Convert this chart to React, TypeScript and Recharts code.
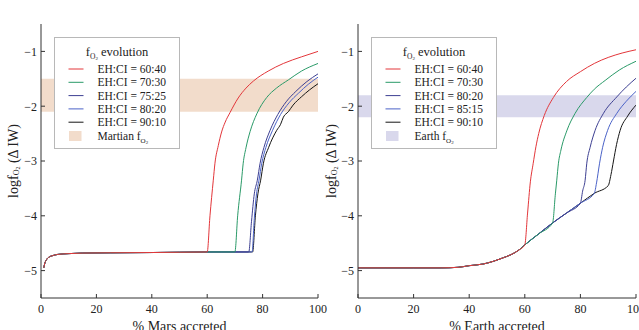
import React from 'react';
import { LineChart, Line, XAxis, YAxis, ReferenceArea, Legend, Label } from 'recharts';

const FONT = '"Liberation Serif", "Times New Roman", serif';

const xTicks = [0, 20, 40, 60, 80, 100];
const yTicks = [-5, -4, -3, -2, -1];

const colRed = '#e3363a';
const colGreen = '#2a9a68';
const colNavy = '#3d3f92';
const colBlue = '#4a62c8';
const colBlack = '#151515';

// ---------- Mars (left) ----------
const marsBaseX = [1, 1.3, 2, 3, 4, 6, 10, 15, 25, 40, 50, 60, 65, 70, 75, 76, 77];
const marsBaseY = [-4.95, -4.88, -4.8, -4.75, -4.73, -4.705, -4.69, -4.68, -4.675, -4.67, -4.665, -4.66, -4.66, -4.66, -4.66, -4.66, -4.66];

const marsLabels = ['EH:CI = 60:40', 'EH:CI = 70:30', 'EH:CI = 75:25', 'EH:CI = 80:20', 'EH:CI = 90:10'];

const mars6040X = [60, 61, 62.2, 62.8, 64, 65.2, 66.5, 68.2, 71.2, 74, 76.7, 82, 87.5, 94, 100];
const mars6040Y = [-4.66, -4.0, -3.35, -3.04, -2.72, -2.47, -2.29, -2.12, -1.85, -1.67, -1.54, -1.36, -1.22, -1.1, -1.0];
const mars7030X = [70, 71, 72.4, 73, 74, 75.5, 77.9, 81.5, 85, 89.3, 94, 100];
const mars7030Y = [-4.66, -4.0, -3.35, -3.04, -2.76, -2.46, -2.14, -1.84, -1.67, -1.52, -1.36, -1.22];
const mars7525X = [75, 76, 77, 78.1, 79.1, 80.5, 82.7, 85.5, 88.5, 92, 96, 100];
const mars7525Y = [-4.66, -4.1, -3.6, -3.35, -3.04, -2.75, -2.44, -2.15, -1.92, -1.73, -1.55, -1.41];
const mars8020X = [76.2, 77, 77.8, 78.7, 79.7, 81.2, 83.6, 86.5, 89.5, 93, 96.5, 100];
const mars8020Y = [-4.66, -4.05, -3.6, -3.35, -3.04, -2.75, -2.44, -2.15, -1.94, -1.76, -1.6, -1.47];
const mars9010X = [76.4, 77.4, 78.3, 79.3, 80.3, 82.2, 85.1, 86.5, 87.5, 89.3, 91, 94, 97, 100];
const mars9010Y = [-4.66, -4.0, -3.6, -3.35, -3.04, -2.75, -2.44, -2.33, -2.2, -2.1, -1.98, -1.83, -1.7, -1.59];

const marsBand = [-2.1, -1.5];

// ---------- Earth (right) ----------
const earthBaseX = [0, 10, 20, 30, 36, 40, 45, 48.7, 52, 55, 58, 60, 65, 70, 75, 80, 85, 90];
const earthBaseY = [-4.95, -4.95, -4.95, -4.95, -4.94, -4.91, -4.88, -4.83, -4.77, -4.71, -4.62, -4.53, -4.33, -4.13, -3.95, -3.77, -3.59, -3.45];

const earthLabels = ['EH:CI = 60:40', 'EH:CI = 70:30', 'EH:CI = 80:20', 'EH:CI = 85:15', 'EH:CI = 90:10'];

const earth6040X = [60, 61, 62, 63, 64, 65, 67, 70.3, 75, 80, 85, 90, 95, 100];
const earth6040Y = [-4.53, -3.95, -3.38, -3.05, -2.74, -2.5, -2.17, -1.84, -1.55, -1.37, -1.22, -1.11, -1.03, -0.97];
const earth7030X = [70, 71, 71.5, 72.1, 73, 75.1, 78.1, 82.3, 85, 88.9, 94, 100];
const earth7030Y = [-4.13, -3.6, -3.35, -3.04, -2.8, -2.45, -2.13, -1.84, -1.69, -1.53, -1.34, -1.18];
const earth8020X = [80, 80.8, 81.7, 82.3, 83.5, 85.3, 88.3, 93.1, 96.5, 100];
const earth8020Y = [-3.77, -3.55, -3.35, -3.04, -2.75, -2.44, -2.13, -1.83, -1.65, -1.49];
const earth8515X = [85, 85.8, 86.9, 88, 89.8, 93.1, 96.5, 100];
const earth8515Y = [-3.59, -3.4, -3.04, -2.75, -2.44, -2.13, -1.91, -1.73];
const earth9010X = [90, 91, 91.9, 93, 94.3, 97, 100];
const earth9010Y = [-3.45, -3.25, -3.0, -2.7, -2.44, -2.18, -1.98];

const earthBand = [-2.2, -1.8];

function build(baseX: number[], baseY: number[], riseX: number[], riseY: number[]) {
  const pts: { x: number; y: number }[] = [];
  baseX.forEach((x, i) => {
    if (x < riseX[0]) pts.push({ x, y: baseY[i] });
  });
  riseX.forEach((x, i) => pts.push({ x, y: riseY[i] }));
  return pts;
}

const colors = [colRed, colGreen, colNavy, colBlue, colBlack];

const marsSeries = [
  [mars6040X, mars6040Y],
  [mars7030X, mars7030Y],
  [mars7525X, mars7525Y],
  [mars8020X, mars8020Y],
  [mars9010X, mars9010Y],
].map(([rx, ry], i) => ({
  name: marsLabels[i],
  color: colors[i],
  data: build(marsBaseX, marsBaseY, rx, ry),
}));

const earthSeries = [
  [earth6040X, earth6040Y],
  [earth7030X, earth7030Y],
  [earth8020X, earth8020Y],
  [earth8515X, earth8515Y],
  [earth9010X, earth9010Y],
].map(([rx, ry], i) => ({
  name: earthLabels[i],
  color: colors[i],
  data: build(earthBaseX, earthBaseY, rx, ry),
}));

const fmtY = (v: number) => (v < 0 ? '\u2212' + Math.abs(v) : String(v));

const XTick = (p: any) => (
  <text x={p.x} y={p.y} dy="0.75em" textAnchor="middle" fontFamily={FONT} fontSize={12} fill="#222">
    {String(p.payload.value)}
  </text>
);

const YTick = (p: any) => (
  <text x={p.x} y={p.y} dy="0.36em" textAnchor="end" fontFamily={FONT} fontSize={12} fill="#222">
    {fmtY(p.payload.value)}
  </text>
);

function LegendBox({ series, bandColor, bandName }: any) {
  const rows = [31, 44.3, 57.6, 70.9, 84.2];
  return (
    <div
      style={{
        width: 126,
        height: 112,
        boxSizing: 'border-box',
        border: '1px solid #b8b8b8',
        background: '#fff',
      }}
    >
      <svg width={124} height={110} style={{ display: 'block', fontFamily: FONT }}>
        <text x={62} y={17.5} textAnchor="middle" fontFamily={FONT} fontSize={12.5} fill="#222">
          f
          <tspan fontSize={7.5} dy={3}>O</tspan>
          <tspan fontSize={5} dy={1.5}>2</tspan>
          <tspan dy={-4.5}> evolution</tspan>
        </text>
        {series.map((s: any, i: number) => (
          <g key={s.name}>
            <line x1={13.5} x2={28.5} y1={rows[i]} y2={rows[i]} stroke={s.color} strokeWidth={1} />
            <text x={42.5} y={rows[i] + 4} fontFamily={FONT} fontSize={11.5} fill="#222">
              {s.name}
            </text>
          </g>
        ))}
        <rect x={14} y={93} width={12.5} height={10} fill={bandColor} />
        <text x={42.5} y={101.5} fontFamily={FONT} fontSize={11.5} fill="#222">
          {bandName}
          <tspan fontSize={7} dy={3}>O</tspan>
          <tspan fontSize={5} dy={1.5}>2</tspan>
        </text>
      </svg>
    </div>
  );
}

function Panel({ width, axisW, rightM, xLabel, series, band, bandColor, bandName, ylabelX }: any) {
  const drawOrder = [...series].reverse();
  return (
    <LineChart
      width={width}
      height={330}
      margin={{ top: 24, right: rightM, bottom: 0, left: 0 }}
      style={{ fontFamily: FONT }}
    >
      <ReferenceArea
        y1={band[0]}
        y2={band[1]}
        fill={bandColor}
        fillOpacity={1}
        stroke="none"
        ifOverflow="visible"
      />
      <XAxis
        dataKey="x"
        type="number"
        domain={[0, 100]}
        ticks={xTicks}
        interval={0}
        height={32}
        tickSize={-4}
        tickMargin={9.5}
        tick={XTick}
        axisLine={{ stroke: '#333' }}
        tickLine={{ stroke: '#333' }}
        allowDataOverflow
      >
        <Label
          content={(p: any) => {
            const vb = p.viewBox || { x: 0, width: 0 };
            return (
              <text x={vb.x + vb.width / 2} y={330.5} textAnchor="middle" fontFamily={FONT} fontSize={14} fill="#222">
                {xLabel}
              </text>
            );
          }}
        />
      </XAxis>
      <XAxis
        xAxisId="top"
        orientation="top"
        dataKey="x"
        type="number"
        domain={[0, 100]}
        ticks={xTicks}
        interval={0}
        height={0}
        tickSize={-4}
        tick={false}
        axisLine={{ stroke: '#333' }}
        tickLine={{ stroke: '#333' }}
        allowDataOverflow
      />
      <YAxis
        type="number"
        domain={[-5.5, -0.5]}
        ticks={yTicks}
        interval={0}
        width={axisW}
        tickSize={-4}
        tickMargin={8}
        tick={YTick}
        axisLine={{ stroke: '#333' }}
        tickLine={{ stroke: '#333' }}
        allowDataOverflow
      >
        <Label
          content={(p: any) => {
            const vb = p.viewBox || { y: 0, height: 0 };
            const cy = vb.y + vb.height / 2;
            return (
              <text
                x={ylabelX}
                y={cy}
                transform={`rotate(-90, ${ylabelX}, ${cy})`}
                textAnchor="middle"
                dominantBaseline="central"
                fontFamily={FONT}
                fontSize={14}
                fill="#222"
              >
                logf
                <tspan fontSize={8} dy={3}>O</tspan>
                <tspan fontSize={6} dy={1.5}>2</tspan>
                <tspan dy={-4.5}> (Δ IW)</tspan>
              </text>
            );
          }}
        />
      </YAxis>
      <YAxis
        yAxisId="r"
        orientation="right"
        type="number"
        domain={[-5.5, -0.5]}
        ticks={yTicks}
        interval={0}
        width={0}
        tickSize={-4}
        tick={false}
        axisLine={{ stroke: '#333' }}
        tickLine={{ stroke: '#333' }}
        allowDataOverflow
      />
      {drawOrder.map((s: any) => (
        <Line
          key={s.name}
          data={s.data}
          dataKey="y"
          name={s.name}
          stroke={s.color}
          strokeWidth={1}
          dot={false}
          activeDot={false}
          type="monotone"
          isAnimationActive={false}
        />
      ))}
      <Legend
        layout="horizontal"
        verticalAlign="middle"
        align="center"
        wrapperStyle={{ left: axisW + 13.3, top: 37, width: 126, height: 112 }}
        content={() => <LegendBox series={series} bandColor={bandColor} bandName={bandName} />}
      />
    </LineChart>
  );
}

export default function App() {
  return (
    <div
      style={{
        position: 'fixed',
        left: 0,
        top: 0,
        width: 639,
        height: 330,
        overflow: 'hidden',
        background: '#fff',
        fontFamily: FONT,
      }}
    >
      <div style={{ position: 'absolute', left: 0, top: 0 }}>
        <Panel
          width={330}
          axisW={41}
          rightM={12}
          xLabel="% Mars accreted"
          series={marsSeries}
          band={marsBand}
          bandColor="#f2dccb"
          bandName="Martian f"
          ylabelX={13}
        />
      </div>
      <div style={{ position: 'absolute', left: 320, top: 0 }}>
        <Panel
          width={319}
          axisW={38}
          rightM={3}
          xLabel="% Earth accreted"
          series={earthSeries}
          band={earthBand}
          bandColor="#d9d8ec"
          bandName="Earth f"
          ylabelX={11}
        />
      </div>
    </div>
  );
}
